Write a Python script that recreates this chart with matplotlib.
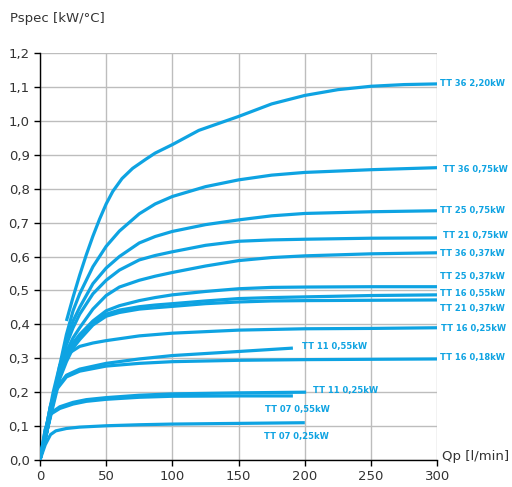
"""
Pspec vs Qp pump curves (TT series).
"""

import matplotlib
matplotlib.use("Agg")
import matplotlib.pyplot as plt
from matplotlib.ticker import FuncFormatter

# ---------------------------------------------------------------------------
# Data
# ---------------------------------------------------------------------------
X_UP = [0, 5, 10, 15, 20, 25, 30, 40, 50, 60, 75, 87, 100, 125, 150, 175, 200, 250, 300]

tt36_075 = [0, 0.08, 0.18, 0.28, 0.37, 0.44, 0.49, 0.57, 0.63, 0.675, 0.726, 0.755,
            0.777, 0.806, 0.826, 0.84, 0.848, 0.856, 0.862]
tt25_075 = [0, 0.08, 0.18, 0.27, 0.35, 0.41, 0.45, 0.52, 0.566, 0.60, 0.64, 0.659,
            0.674, 0.694, 0.708, 0.72, 0.727, 0.732, 0.735]
tt21_075 = [0, 0.08, 0.18, 0.27, 0.34, 0.39, 0.43, 0.49, 0.53, 0.56, 0.59, 0.603,
            0.614, 0.633, 0.645, 0.649, 0.651, 0.654, 0.655]
tt36_037 = [0, 0.08, 0.17, 0.26, 0.32, 0.36, 0.39, 0.445, 0.485, 0.51, 0.53, 0.542,
            0.553, 0.572, 0.588, 0.597, 0.602, 0.608, 0.611]
tt25_037 = [0, 0.08, 0.17, 0.25, 0.31, 0.345, 0.37, 0.41, 0.44, 0.455, 0.47, 0.479,
            0.487, 0.497, 0.505, 0.509, 0.51, 0.511, 0.511]
tt16_055 = [0, 0.08, 0.17, 0.25, 0.30, 0.34, 0.365, 0.405, 0.43, 0.442, 0.452, 0.457,
            0.461, 0.469, 0.476, 0.479, 0.481, 0.485, 0.487]
tt21_037 = [0, 0.08, 0.16, 0.24, 0.29, 0.33, 0.355, 0.398, 0.424, 0.435, 0.445, 0.449,
            0.453, 0.461, 0.466, 0.469, 0.47, 0.471, 0.472]

X_TT36_220 = [20, 25, 30, 35, 40, 45, 50, 55, 62, 70, 80, 87, 100, 120, 150, 175, 200,
              225, 250, 275, 300]
tt36_220 = [0.41, 0.48, 0.545, 0.605, 0.66, 0.71, 0.755, 0.792, 0.83, 0.86, 0.887,
            0.905, 0.93, 0.972, 1.013, 1.05, 1.075, 1.092, 1.102, 1.107, 1.109]

X_TT16_025 = [0, 5, 10, 15, 20, 30, 40, 50, 75, 100, 150, 200, 250, 300]
tt16_025 = [0, 0.10, 0.20, 0.28, 0.31, 0.335, 0.345, 0.352, 0.366, 0.374, 0.383,
            0.387, 0.388, 0.39]

X_TT16_018 = [0, 4, 8, 12, 20, 30, 50, 75, 100, 150, 200, 250, 300]
tt16_018 = [0, 0.08, 0.16, 0.205, 0.245, 0.262, 0.277, 0.285, 0.29, 0.294, 0.296,
            0.297, 0.298]

X_TT11_055 = [0, 4, 8, 12, 20, 30, 50, 75, 100, 150, 191]
tt11_055 = [0, 0.08, 0.16, 0.21, 0.25, 0.268, 0.285, 0.298, 0.308, 0.32, 0.330]

X_TT11_025 = [0, 4, 8, 15, 25, 35, 50, 75, 100, 150, 201]
tt11_025 = [0, 0.09, 0.138, 0.157, 0.170, 0.178, 0.184, 0.191, 0.195, 0.198, 0.200]

X_TT07_055 = [0, 4, 8, 15, 25, 35, 50, 75, 100, 150, 191]
tt07_055 = [0, 0.09, 0.135, 0.152, 0.165, 0.173, 0.179, 0.185, 0.188, 0.189, 0.189]

X_TT07_025 = [0, 4, 8, 12, 20, 30, 50, 75, 100, 150, 200]
tt07_025 = [0, 0.045, 0.075, 0.086, 0.093, 0.097, 0.101, 0.104, 0.106, 0.108, 0.110]

X_TICKS = [0, 50, 100, 150, 200, 250, 300]
Y_TICKS = [0.0, 0.1, 0.2, 0.3, 0.4, 0.5, 0.6, 0.7, 0.8, 0.9, 1.0, 1.1, 1.2]

CURVES = [
    ("TT 36 2,20kW", X_TT36_220, tt36_220),
    ("TT 36 0,75kW", X_UP, tt36_075),
    ("TT 25 0,75kW", X_UP, tt25_075),
    ("TT 21 0,75kW", X_UP, tt21_075),
    ("TT 36 0,37kW", X_UP, tt36_037),
    ("TT 25 0,37kW", X_UP, tt25_037),
    ("TT 16 0,55kW", X_UP, tt16_055),
    ("TT 21 0,37kW", X_UP, tt21_037),
    ("TT 16 0,25kW", X_TT16_025, tt16_025),
    ("TT 11 0,55kW", X_TT11_055, tt11_055),
    ("TT 16 0,18kW", X_TT16_018, tt16_018),
    ("TT 11 0,25kW", X_TT11_025, tt11_025),
    ("TT 07 0,55kW", X_TT07_055, tt07_055),
    ("TT 07 0,25kW", X_TT07_025, tt07_025),
]

# label anchor (data coords), same order as CURVES
LABEL_POS = [
    (302, 1.109), (304, 0.858), (302, 0.735), (304, 0.661), (302, 0.608),
    (302, 0.540), (302, 0.490), (302, 0.448), (303, 0.389), (198, 0.336),
    (302, 0.301), (206, 0.204), (170, 0.150), (169, 0.068),
]

LINE_COL = "#0ea3e2"
TEXT_COL = "#333333"

fig = plt.figure(figsize=(5.12, 4.87), dpi=100)
ax = fig.add_axes([0.078, 0.0554, 0.776, 0.8357])

for (label, xs, ys), (lx, ly) in zip(CURVES, LABEL_POS):
    ax.plot(xs, ys, color=LINE_COL, lw=2.3, solid_capstyle="butt",
            solid_joinstyle="round", zorder=3)
    ax.text(lx, ly, label, color=LINE_COL, fontsize=6.0, fontweight="bold",
            ha="left", va="center", clip_on=False, zorder=4)

ax.set_xlim(0, 300)
ax.set_ylim(0, 1.2)
ax.set_xticks(X_TICKS)
ax.set_yticks(Y_TICKS)
ax.yaxis.set_major_formatter(FuncFormatter(lambda v, p: f"{v:.1f}".replace(".", ",")))
ax.grid(True, color="#bdbdbd", lw=1.0, zorder=0)
ax.set_axisbelow(True)

for s in ("top", "right"):
    ax.spines[s].set_visible(False)
for s in ("left", "bottom"):
    ax.spines[s].set_color("black")
    ax.spines[s].set_linewidth(1.0)
ax.tick_params(direction="out", length=4, width=1.0, colors="black",
               labelcolor=TEXT_COL, labelsize=9.5)

fig.text(0.02, 0.963, "Pspec [kW/\u00b0C]", fontsize=9.5, color=TEXT_COL,
         ha="left", va="center")
fig.text(0.995, 0.063, "Qp [l/min]", fontsize=9.5, color=TEXT_COL,
         ha="right", va="center")

fig.savefig("out.png", dpi=100)
